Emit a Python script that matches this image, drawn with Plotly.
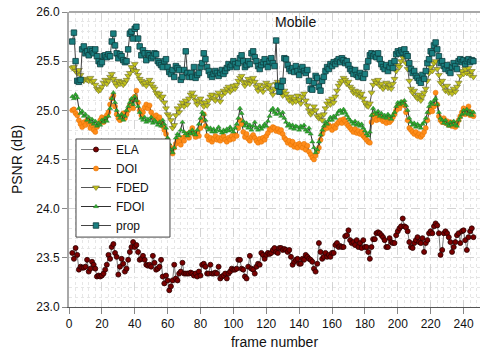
import plotly.graph_objects as go

first_frame = 2

ela = [
    23.55, 23.49, 23.60, 23.53, 23.38, 23.41, 23.40, 23.40, 23.41, 23.48,
    23.36, 23.39, 23.46, 23.43, 23.39, 23.31, 23.32, 23.31, 23.32, 23.34,
    23.38, 23.43, 23.53, 23.49, 23.61, 23.64, 23.55, 23.51, 23.33, 23.41,
    23.49, 23.44, 23.36, 23.39, 23.48, 23.56, 23.61, 23.66, 23.61, 23.63,
    23.56, 23.48, 23.49, 23.52, 23.48, 23.43, 23.42, 23.43, 23.41, 23.52,
    23.45, 23.38, 23.39, 23.41, 23.48, 23.31, 23.24, 23.32, 23.27, 23.17,
    23.21, 23.27, 23.43, 23.29, 23.27, 23.34, 23.36, 23.45, 23.34, 23.34,
    23.34, 23.34, 23.35, 23.34, 23.32, 23.34, 23.31, 23.36, 23.32, 23.43,
    23.44, 23.41, 23.34, 23.34, 23.43, 23.34, 23.34, 23.35, 23.34, 23.41,
    23.29, 23.31, 23.32, 23.34, 23.29, 23.34, 23.36, 23.39, 23.38, 23.38,
    23.39, 23.48, 23.48, 23.39, 23.38, 23.31, 23.29, 23.41, 23.52, 23.39,
    23.38, 23.34, 23.41, 23.44, 23.43, 23.55, 23.53,
    23.49, 23.53, 23.55, 23.54, 23.55, 23.58, 23.60, 23.56, 23.55, 23.60,
    23.60, 23.58, 23.59, 23.58, 23.56, 23.58, 23.51, 23.43, 23.46, 23.48,
    23.49, 23.44, 23.44, 23.49, 23.48, 23.53, 23.51, 23.49, 23.48, 23.46,
    23.39, 23.36, 23.44, 23.65, 23.56, 23.49, 23.51, 23.55, 23.51, 23.53,
    23.51, 23.55, 23.55, 23.63, 23.65, 23.61, 23.62, 23.61, 23.61, 23.72,
    23.73, 23.78, 23.68, 23.65, 23.66, 23.63, 23.68, 23.61, 23.65, 23.60,
    23.68, 23.61, 23.61, 23.56, 23.49, 23.61, 23.69, 23.69, 23.75, 23.76,
    23.75, 23.73, 23.71, 23.68, 23.61, 23.61, 23.70, 23.66, 23.65, 23.65,
    23.73, 23.77, 23.80, 23.82, 23.90, 23.82, 23.81, 23.77, 23.66, 23.61,
    23.60, 23.65, 23.68, 23.71, 23.66, 23.65, 23.70, 23.56, 23.65, 23.68,
    23.75, 23.77, 23.75, 23.82, 23.85, 23.83, 23.75, 23.53, 23.58, 23.75,
    23.77, 23.75, 23.71, 23.66, 23.56, 23.61, 23.66, 23.73, 23.75, 23.65,
    23.77, 23.78, 23.68, 23.58, 23.71, 23.77, 23.80, 23.71,
]

doi = [
    25.00, 25.01, 24.97, 24.95, 24.90, 24.86, 24.83, 24.88, 24.85, 24.90,
    24.87, 24.82, 24.85, 24.80, 24.78, 24.83, 24.86, 24.90, 24.93, 24.88,
    24.92, 24.95, 24.98, 25.06, 25.12, 25.15, 25.04, 24.96, 24.92, 24.90,
    24.94, 24.97, 24.92, 24.96, 25.00, 25.05, 25.10, 25.02, 25.14, 25.20,
    25.08, 25.00, 24.95, 24.98, 25.03, 25.06, 25.02, 25.05, 24.98, 24.94,
    24.92, 24.95, 24.90, 24.93, 24.88, 24.84, 24.80, 24.76, 24.70, 24.64,
    24.60, 24.56, 24.62, 24.66, 24.70, 24.68, 24.65, 24.72, 24.69, 24.74,
    24.76, 24.72, 24.78, 24.82, 24.76, 24.73, 24.78, 24.74, 24.82, 24.90,
    24.96, 24.84, 24.74, 24.70, 24.72, 24.68, 24.71, 24.74, 24.70, 24.72,
    24.69, 24.72, 24.74, 24.70, 24.68, 24.72, 24.70, 24.74, 24.71, 24.75,
    24.74, 24.82, 24.90, 24.86, 24.78, 24.73, 24.76, 24.71, 24.69, 24.73,
    24.75, 24.72, 24.69, 24.67, 24.71, 24.68, 24.72, 24.70, 24.74, 24.77,
    24.81, 24.80, 24.83, 24.82, 24.79, 24.81, 24.78, 24.80, 24.76, 24.72,
    24.70, 24.67, 24.69, 24.65, 24.68, 24.63, 24.65, 24.62, 24.66, 24.64,
    24.62, 24.66, 24.60, 24.64, 24.58, 24.55, 24.52, 24.50, 24.54, 24.58,
    24.62, 24.70, 24.76, 24.80, 24.84, 24.82, 24.85, 24.83, 24.80, 24.84,
    24.82, 24.86, 24.88, 24.90, 24.87, 24.91, 24.89, 24.86, 24.84, 24.82,
    24.80, 24.78, 24.81, 24.77, 24.79, 24.76, 24.78, 24.74, 24.72, 24.70,
    24.68, 24.67, 24.88, 24.95, 24.92, 24.90, 24.94, 24.91, 24.93, 24.89,
    24.90, 24.87, 24.91, 24.88, 24.90, 24.93, 24.96, 25.00, 25.04, 25.02,
    25.06, 25.08, 25.05, 24.98, 24.90, 24.82, 24.80, 24.78, 24.76, 24.78,
    24.74, 24.76, 24.73, 24.75, 24.78, 24.82, 24.90, 24.98, 25.02, 24.99,
    25.04, 25.18, 25.06, 24.94, 24.90, 24.88, 24.92, 24.87, 24.89, 24.85,
    24.88, 24.84, 24.87, 24.83, 24.86, 24.90, 24.94, 24.98, 25.02, 24.96,
    25.00, 25.04, 24.95, 24.98, 24.94,
]

fded = [
    25.43, 25.44, 25.40, 25.38, 25.41, 25.36, 25.31, 25.30, 25.32, 25.31,
    25.30, 25.33, 25.29, 25.30, 25.26, 25.22, 25.20, 25.21, 25.24, 25.28,
    25.31, 25.27, 25.30, 25.34, 25.37, 25.32, 25.28, 25.25, 25.30, 25.27,
    25.29, 25.26, 25.28, 25.31, 25.35, 25.38, 25.44, 25.41, 25.47, 25.40,
    25.36, 25.32, 25.30, 25.27, 25.28, 25.25, 25.29, 25.31, 25.27, 25.24,
    25.22, 25.18, 25.15, 25.17, 25.12, 25.14, 25.08, 25.02, 24.96, 24.94,
    24.90, 24.82, 24.85, 24.95, 25.02, 24.98, 25.05, 25.08, 25.04, 25.10,
    25.06, 25.12, 25.16, 25.18, 25.14, 25.10, 25.06, 25.10, 25.12, 25.08,
    25.04, 25.08, 25.05, 25.10, 25.14, 25.16, 25.12, 25.10, 25.15, 25.18,
    25.09, 25.15, 25.20, 25.18, 25.22, 25.24, 25.19, 25.21, 25.25, 25.22,
    25.26, 25.30, 25.33, 25.35, 25.29, 25.25, 25.28, 25.32, 25.27, 25.30,
    25.33, 25.29, 25.24, 25.20, 25.26, 25.22, 25.19, 25.25, 25.28, 25.23,
    25.26, 25.20, 25.16, 25.22, 25.27, 25.29, 25.24, 25.18, 25.15, 25.20,
    25.17, 25.13, 25.10, 25.14, 25.08, 25.12, 25.09, 25.15, 25.11, 25.07,
    25.14, 25.17, 25.10, 25.05, 25.00, 24.96, 24.98, 25.04, 25.00, 24.94,
    24.92, 24.95, 24.90, 24.96, 25.02, 25.07, 25.10, 25.06, 25.12, 25.08,
    25.14, 25.20, 25.25, 25.28, 25.30, 25.33, 25.31, 25.27, 25.29, 25.24,
    25.22, 25.18, 25.20, 25.16, 25.19, 25.14, 25.17, 25.12, 25.08, 25.05,
    25.04, 25.07, 25.18, 25.26, 25.30, 25.28, 25.31, 25.25, 25.27, 25.22,
    25.24, 25.28, 25.23, 25.26, 25.22, 25.27, 25.32, 25.40, 25.46, 25.44,
    25.50, 25.54, 25.55, 25.48, 25.42, 25.30, 25.22, 25.18, 25.20, 25.14,
    25.12, 25.16, 25.10, 25.14, 25.18, 25.22, 25.30, 25.38, 25.44, 25.40,
    25.48, 25.50, 25.42, 25.36, 25.28, 25.30, 25.24, 25.20, 25.25, 25.18,
    25.20, 25.17, 25.22, 25.19, 25.24, 25.28, 25.35, 25.40, 25.37, 25.42,
    25.38, 25.43, 25.36, 25.40, 25.34,
]

fdoi = [
    25.14, 25.12, 25.16, 25.13, 25.02, 24.97, 24.99, 24.94, 24.96, 24.90,
    24.93, 24.88, 24.91, 24.86, 24.89, 24.84, 24.87, 24.85, 24.90, 24.88,
    24.92, 24.89, 24.94, 25.02, 25.12, 25.18, 25.08, 25.00, 24.95, 24.92,
    24.96, 24.90, 24.94, 25.00, 25.04, 25.08, 25.12, 25.06, 25.14, 25.10,
    25.04, 24.98, 24.92, 24.90, 24.93, 24.88, 24.91, 24.89, 24.93, 24.87,
    24.90, 24.88, 24.85, 24.88, 24.84, 24.90, 24.86, 24.82, 24.72, 24.66,
    24.60, 24.57, 24.62, 24.72, 24.76, 24.74, 24.80, 24.88, 24.78, 24.76,
    24.74, 24.78, 24.76, 24.80, 24.77, 24.75, 24.80, 24.86, 24.92, 24.98,
    24.96, 24.90, 24.83, 24.80, 24.82, 24.78, 24.81, 24.78, 24.80, 24.83,
    24.79, 24.77, 24.80, 24.78, 24.81, 24.79, 24.83, 24.80, 24.78, 24.82,
    24.86, 24.92, 25.02, 24.97, 24.89, 24.84, 24.87, 24.82, 24.85, 24.80,
    24.84, 24.88, 24.82, 24.80, 24.84, 24.81, 24.83, 24.86, 24.84, 24.89,
    24.94, 25.00, 25.02, 24.98, 24.96, 25.01, 24.97, 24.94, 24.98, 24.92,
    24.88, 24.84, 24.86, 24.82, 24.85, 24.81, 24.84, 24.83, 24.80, 24.84,
    24.82, 24.85, 24.80, 24.78, 24.82, 24.76, 24.68, 24.62, 24.57, 24.60,
    24.68, 24.75, 24.80, 24.84, 24.88, 24.86, 24.90, 24.93, 24.90, 24.94,
    24.92, 24.96, 24.99, 25.00, 24.97, 25.01, 24.98, 24.95, 24.92, 24.90,
    24.88, 24.86, 24.89, 24.85, 24.87, 24.84, 24.86, 24.82, 24.79, 24.76,
    24.74, 24.78, 24.95, 25.02, 24.98, 24.96, 24.99, 24.94, 24.97, 24.93,
    24.95, 24.92, 24.96, 24.94, 24.91, 24.95, 24.98, 25.04, 25.08, 25.06,
    25.09, 25.07, 25.10, 25.05, 25.00, 24.92, 24.88, 24.85, 24.87, 24.83,
    24.86, 24.84, 24.82, 24.86, 24.88, 24.92, 24.98, 25.04, 25.08, 25.06,
    25.10, 25.12, 25.06, 24.98, 24.92, 24.90, 24.87, 24.90, 24.86, 24.84,
    24.88, 24.85, 24.89, 24.86, 24.84, 24.90, 24.93, 24.96, 25.00, 24.97,
    25.01, 24.96, 24.99, 24.95, 24.98,
]

prop = [
    25.70, 25.79, 25.50, 25.30, 25.29, 25.31, 25.62, 25.65, 25.58, 25.60,
    25.56, 25.62, 25.60, 25.58, 25.62, 25.55, 25.50, 25.47, 25.49, 25.55,
    25.56, 25.54, 25.57, 25.55, 25.70, 25.78, 25.66, 25.58, 25.53, 25.57,
    25.55, 25.51, 25.49, 25.50, 25.62, 25.78, 25.80, 25.73, 25.83, 25.85,
    25.73, 25.65, 25.56, 25.61, 25.58, 25.51, 25.58, 25.56, 25.53, 25.55,
    25.58, 25.57, 25.50, 25.48, 25.46, 25.44, 25.50, 25.52, 25.44, 25.39,
    25.37, 25.41, 25.34, 25.45, 25.43, 25.41, 25.31, 25.34, 25.41, 25.60,
    25.38, 25.34, 25.38, 25.34, 25.44, 25.33, 25.36, 25.38, 25.44, 25.48,
    25.58, 25.52, 25.44, 25.40, 25.36, 25.34, 25.37, 25.40, 25.38, 25.35,
    25.38, 25.41, 25.37, 25.40, 25.43, 25.47, 25.44, 25.46, 25.50, 25.47,
    25.44, 25.48, 25.53, 25.56, 25.50, 25.44, 25.46, 25.50, 25.47, 25.58,
    25.60, 25.54, 25.50, 25.45, 25.42, 25.46, 25.49, 25.52, 25.47, 25.44,
    25.50, 25.53, 25.48, 25.45, 25.71, 25.25, 25.19, 25.24, 25.30, 25.53,
    25.52, 25.46, 25.42, 25.40, 25.43, 25.39, 25.45, 25.40, 25.36, 25.42,
    25.44, 25.40, 25.38, 25.41, 25.30, 25.22, 25.21, 25.28, 25.35, 25.33,
    25.24, 25.20, 25.30, 25.34, 25.40, 25.44, 25.42, 25.47, 25.45, 25.49,
    25.47, 25.50, 25.52, 25.49, 25.53, 25.51, 25.48, 25.50, 25.46, 25.42,
    25.40, 25.37, 25.41, 25.36, 25.34, 25.38, 25.35, 25.33, 25.37, 25.44,
    25.50, 25.56, 25.58, 25.55, 25.57, 25.54, 25.58, 25.52, 25.47, 25.44,
    25.42, 25.46, 25.40, 25.44, 25.48, 25.43, 25.50, 25.57, 25.60, 25.58,
    25.61, 25.59, 25.62, 25.57, 25.55, 25.48, 25.42, 25.38, 25.40, 25.35,
    25.33, 25.30, 25.28, 25.36, 25.32, 25.40, 25.48, 25.52, 25.60, 25.58,
    25.66, 25.69, 25.62, 25.55, 25.48, 25.50, 25.45, 25.42, 25.46, 25.40,
    25.38, 25.44, 25.48, 25.45, 25.42, 25.50, 25.52, 25.49, 25.51, 25.47,
    25.50, 25.52, 25.49, 25.51, 25.50,
]

x_ticks = [0, 20, 40, 60, 80, 100, 120, 140, 160, 180, 200, 220, 240]
y_ticks = [23.0, 23.5, 24.0, 24.5, 25.0, 25.5, 26.0]

series = [
    ("ELA", ela, dict(symbol="circle", size=5, color="#7a0000",
                      line=dict(color="#2a0000", width=0.8)), "#7a7a7a"),
    ("DOI", doi, dict(symbol="circle", size=5, color="#ff8c1a",
                      line=dict(color="#e07000", width=0.5)), "#3a3a3a"),
    ("FDED", fded, dict(symbol="triangle-down", size=6, color="#c2c21a",
                        line=dict(color="#6e6e30", width=0.6)), "#555555"),
    ("FDOI", fdoi, dict(symbol="triangle-up", size=4.5, color="#2ea82e",
                        line=dict(color="#1c6e1c", width=0.4)), "#303030"),
    ("prop", prop, dict(symbol="square", size=5.5, color="#1a7f80",
                        line=dict(color="#0c3c3c", width=0.8)), "#454545"),
]

fig = go.Figure()
for name, vals, marker, lc in series:
    xs = list(range(first_frame, first_frame + len(vals)))
    fig.add_trace(go.Scatter(
        x=xs, y=vals, name=name, mode="lines+markers",
        line=dict(color=lc, width=1), marker=marker,
    ))

font_family = "Liberation Sans, Arial, sans-serif"

fig.update_layout(
    width=480, height=359,
    margin=dict(l=69, r=0, t=12, b=52),
    paper_bgcolor="white", plot_bgcolor="white",
    font=dict(family=font_family, size=12, color="#111111"),
    showlegend=True,
    legend=dict(
        x=0.017, y=0.583, xanchor="left", yanchor="top",
        bgcolor="rgba(0,0,0,0)", borderwidth=0,
        font=dict(size=12, family=font_family, color="#111111"),
        itemwidth=30, tracegroupgap=0,
    ),
    xaxis=dict(
        range=[0, 250], tickvals=x_ticks, ticks="outside", ticklen=6,
        tickcolor="#888888", showline=True, linecolor="#555555", linewidth=1,
        showgrid=True, gridcolor="#d4d4d4", griddash="dash", gridwidth=1,
        minor=dict(dtick=4, showgrid=True, gridcolor="#e6e6e6", griddash="dot"),
        zeroline=False,
        title=dict(text="frame number", font=dict(size=14), standoff=6),
        tickfont=dict(size=12),
    ),
    yaxis=dict(
        range=[23.0, 26.0], tickvals=y_ticks, tickformat=".1f",
        ticks="outside", ticklen=5, tickcolor="#888888",
        showline=True, linecolor="#a8a8a8", linewidth=2,
        showgrid=True, gridcolor="#d4d4d4", griddash="dash", gridwidth=1,
        minor=dict(dtick=0.1, showgrid=True, gridcolor="#e6e6e6", griddash="dot"),
        zeroline=False,
        title=dict(text="PSNR (dB)", font=dict(size=14), standoff=10),
        tickfont=dict(size=12),
    ),
    shapes=[
        dict(type="line", xref="paper", yref="paper", x0=0, x1=1, y0=1, y1=1,
             line=dict(color="#a8a8a8", width=2)),
        dict(type="rect", xref="paper", yref="paper", layer="above",
             x0=0.017, x1=0.2457, y0=0.237, y1=0.5695,
             fillcolor="white", line=dict(color="#444444", width=1)),
    ],
    annotations=[dict(text="Mobile", xref="paper", yref="paper", x=0.55, y=0.966,
                      xanchor="center", yanchor="middle", showarrow=False,
                      font=dict(size=14, family=font_family, color="#111111"))],
)

fig.write_html("out.html")
